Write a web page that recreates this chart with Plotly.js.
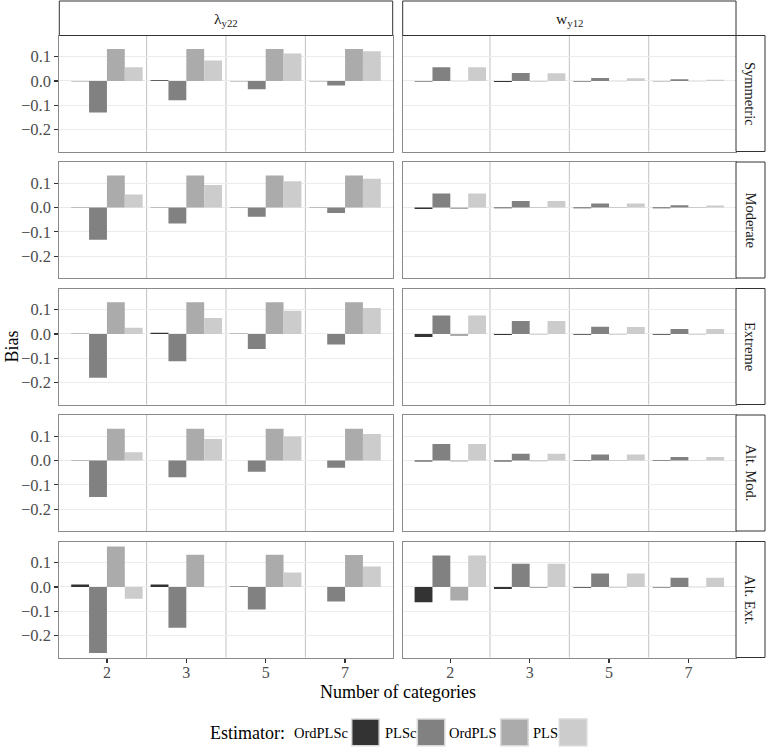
<!DOCTYPE html>
<html>
<head>
<meta charset="utf-8">
<script src="https://cdn.plot.ly/plotly-3.0.1.min.js"></script>
<style>html,body{margin:0;padding:0;background:#fff;}#chart{width:767px;height:747px;}</style>
</head>
<body>
<div id="chart"></div>
<script>
// ---------------- data ----------------
const categories = ["2", "3", "5", "7"];
const estimators = ["OrdPLSc", "PLSc", "OrdPLS", "PLS"];
const fillColors = ["#333333", "#818181", "#ABABAB", "#CCCCCC"];
const scenarios = ["Symmetric", "Moderate", "Extreme", "Alt. Mod.", "Alt. Ext."];
const parameters = ["λ<sub>y22</sub>", "w<sub>y12</sub>"];
const yTickVals = [-0.2, -0.1, 0.0, 0.1];
const yTickText = ["−0.2", "−0.1", "0.0", "0.1"];

// lambda_y22 column: rows = scenarios, columns = categories
const lambdaOrdPLSc = [
  [-0.001, 0.003, -0.001, -0.001],
  [-0.001, 0.001, -0.001, -0.001],
  [0.001, 0.005, 0.001, 0.000],
  [-0.001, 0.000, 0.000, 0.000],
  [0.010, 0.010, 0.002, 0.000]
];
const lambdaPLSc = [
  [-0.130, -0.079, -0.034, -0.019],
  [-0.133, -0.066, -0.038, -0.023],
  [-0.180, -0.112, -0.062, -0.043],
  [-0.150, -0.069, -0.046, -0.030],
  [-0.271, -0.168, -0.093, -0.060]
];
const lambdaOrdPLS = [
  [0.131, 0.131, 0.131, 0.131],
  [0.131, 0.131, 0.132, 0.132],
  [0.130, 0.130, 0.130, 0.130],
  [0.130, 0.130, 0.130, 0.130],
  [0.166, 0.133, 0.133, 0.131]
];
const lambdaPLS = [
  [0.056, 0.084, 0.113, 0.122],
  [0.053, 0.092, 0.108, 0.118],
  [0.026, 0.066, 0.096, 0.107],
  [0.034, 0.088, 0.099, 0.109],
  [-0.048, -0.001, 0.060, 0.084]
];

// w_y12 column
const wOrdPLSc = [
  [-0.002, -0.004, -0.002, -0.001],
  [-0.006, -0.003, -0.003, -0.003],
  [-0.012, -0.004, -0.003, -0.003],
  [-0.004, -0.004, -0.002, -0.002],
  [-0.063, -0.008, -0.003, -0.002]
];
const wPLSc = [
  [0.056, 0.033, 0.012, 0.007],
  [0.057, 0.027, 0.016, 0.009],
  [0.076, 0.053, 0.030, 0.020],
  [0.068, 0.028, 0.025, 0.014],
  [0.129, 0.096, 0.055, 0.038]
];
const wOrdPLS = [
  [-0.001, -0.002, -0.001, -0.001],
  [-0.006, -0.002, -0.002, -0.002],
  [-0.008, -0.002, -0.002, -0.002],
  [-0.004, -0.003, -0.002, -0.001],
  [-0.056, -0.004, -0.002, -0.001]
];
const wPLS = [
  [0.056, 0.032, 0.011, 0.005],
  [0.057, 0.027, 0.016, 0.008],
  [0.076, 0.053, 0.029, 0.020],
  [0.068, 0.028, 0.025, 0.014],
  [0.129, 0.096, 0.055, 0.038]
];

const columnData = [
  [lambdaOrdPLSc, lambdaPLSc, lambdaOrdPLS, lambdaPLS],
  [wOrdPLSc, wPLSc, wOrdPLS, wPLS]
];

// ---------------- layout geometry (pixels) ----------------
const W = 767, H = 747;
const FONT = "Liberation Serif, DejaVu Serif, serif";
const xp = px => px / W;
const yp = px => 1 - px / H;

const colLeft = [59.3, 402.7];
const colRight = [392.7, 736];
const panelTop = 35.5, panelH = 116, panelGap = 10.5;
const stripTop = 1, stripRight = 765;

const traces = [];
const layout = {
  width: W, height: H,
  margin: {l: 0, r: 0, t: 0, b: 0},
  paper_bgcolor: "#ffffff",
  plot_bgcolor: "#ffffff",
  barmode: "group",
  bargap: 0.1,
  bargroupgap: 0,
  showlegend: false,
  font: {family: FONT, color: "#000"},
  shapes: [],
  annotations: []
};

for (let r = 0; r < scenarios.length; r++) {
  const top = panelTop + r * (panelH + panelGap);
  const bot = top + panelH;
  for (let c = 0; c < 2; c++) {
    const k = r * 2 + c + 1;
    const xName = k === 1 ? "xaxis" : "xaxis" + k;
    const yName = k === 1 ? "yaxis" : "yaxis" + k;
    const xRef = k === 1 ? "x" : "x" + k;
    const yRef = k === 1 ? "y" : "y" + k;

    for (let e = 0; e < estimators.length; e++) {
      traces.push({
        type: "bar",
        name: estimators[e],
        x: categories,
        y: columnData[c][e][r],
        xaxis: xRef,
        yaxis: yRef,
        marker: {color: fillColors[e], line: {width: 0}},
        showlegend: false,
        hoverinfo: "x+y+name"
      });
    }

    const isBottom = r === scenarios.length - 1;
    layout[xName] = {
      domain: [xp(colLeft[c]), xp(colRight[c])],
      anchor: yRef,
      type: "category",
      categoryorder: "array",
      categoryarray: categories,
      range: [-0.6, categories.length - 0.4],
      showgrid: false,
      zeroline: false,
      showline: true,
      mirror: true,
      linecolor: "#8a8a8a",
      linewidth: 1,
      ticks: isBottom ? "outside" : "",
      ticklen: 4,
      tickwidth: 1.2,
      tickcolor: "#333333",
      showticklabels: isBottom,
      ticklabelstandoff: -4,
      tickfont: {family: FONT, size: 16, color: "#4d4d4d"},
      fixedrange: true
    };
    layout[yName] = {
      domain: [yp(bot), yp(top)],
      anchor: xRef,
      range: [-0.290, 0.187],
      tickvals: yTickVals,
      ticktext: yTickText,
      showgrid: true,
      gridcolor: "#ebebeb",
      gridwidth: 1,
      zeroline: false,
      showline: true,
      mirror: true,
      linecolor: "#8a8a8a",
      linewidth: 1,
      ticks: c === 0 ? "outside" : "",
      ticklen: 4,
      tickwidth: 1.2,
      tickcolor: "#333333",
      showticklabels: c === 0,
      tickfont: {family: FONT, size: 16.5, color: "#4d4d4d"},
      fixedrange: true
    };

    // separators between category groups
    for (let i = 1; i < categories.length; i++) {
      layout.shapes.push({
        type: "line", layer: "below",
        xref: xRef, yref: yRef + " domain",
        x0: i - 0.5, x1: i - 0.5, y0: 0, y1: 1,
        line: {color: "#c2c2c2", width: 1}
      });
    }
  }

  // right strip
  layout.shapes.push({
    type: "rect", xref: "paper", yref: "paper",
    x0: xp(colRight[1]), x1: xp(stripRight), y0: yp(bot), y1: yp(top),
    fillcolor: "#ffffff", line: {color: "#333333", width: 1}
  });
  layout.annotations.push({
    xref: "paper", yref: "paper",
    x: xp((colRight[1] + stripRight) / 2), y: yp((top + bot) / 2),
    text: scenarios[r], textangle: 90, showarrow: false,
    xanchor: "center", yanchor: "middle",
    font: {family: FONT, size: 14.5, color: "#1a1a1a"}
  });
}

// top strips
for (let c = 0; c < 2; c++) {
  layout.shapes.push({
    type: "rect", xref: "paper", yref: "paper",
    x0: xp(colLeft[c]), x1: xp(colRight[c]), y0: yp(panelTop), y1: yp(stripTop),
    fillcolor: "#ffffff", line: {color: "#333333", width: 1}
  });
  layout.annotations.push({
    xref: "paper", yref: "paper",
    x: xp((colLeft[c] + colRight[c]) / 2), y: yp((panelTop + stripTop) / 2 + 1),
    text: parameters[c], showarrow: false,
    xanchor: "center", yanchor: "middle",
    font: {family: FONT, size: 15.5, color: "#1a1a1a"}
  });
}

// axis titles
const panelsBottom = panelTop + scenarios.length * panelH + (scenarios.length - 1) * panelGap;
layout.annotations.push({
  xref: "paper", yref: "paper",
  x: xp(11), y: yp((panelTop + panelsBottom) / 2),
  text: "Bias", textangle: -90, showarrow: false,
  xanchor: "center", yanchor: "middle",
  font: {family: FONT, size: 18, color: "#000"}
});
layout.annotations.push({
  xref: "paper", yref: "paper",
  x: xp((colLeft[0] + colRight[1]) / 2), y: yp(692),
  text: "Number of categories", showarrow: false,
  xanchor: "center", yanchor: "middle",
  font: {family: FONT, size: 18, color: "#000"}
});

// legend (labels placed before their keys, as in the reference)
const legendY = 732.5;
layout.annotations.push({
  xref: "paper", yref: "paper",
  x: xp(208), y: yp(legendY),
  text: "Estimator:", showarrow: false,
  xanchor: "left", yanchor: "middle",
  font: {family: FONT, size: 18, color: "#000"}
});
const labelX = [292, 382.5, 447, 531];
const keyX = [351.7, 417.3, 500.7, 559.3];
for (let e = 0; e < estimators.length; e++) {
  layout.annotations.push({
    xref: "paper", yref: "paper",
    x: xp(labelX[e]), y: yp(legendY),
    text: estimators[e], showarrow: false,
    xanchor: "left", yanchor: "middle",
    font: {family: FONT, size: 14.5, color: "#000"}
  });
  layout.shapes.push({
    type: "rect", xref: "paper", yref: "paper",
    x0: xp(keyX[e]), x1: xp(keyX[e] + 27.5),
    y0: yp(745.7), y1: yp(719),
    fillcolor: fillColors[e], line: {color: "#d9d9d9", width: 1.5}
  });
}

Plotly.newPlot("chart", traces, layout, {staticPlot: true, displayModeBar: false});
</script>
</body>
</html>
